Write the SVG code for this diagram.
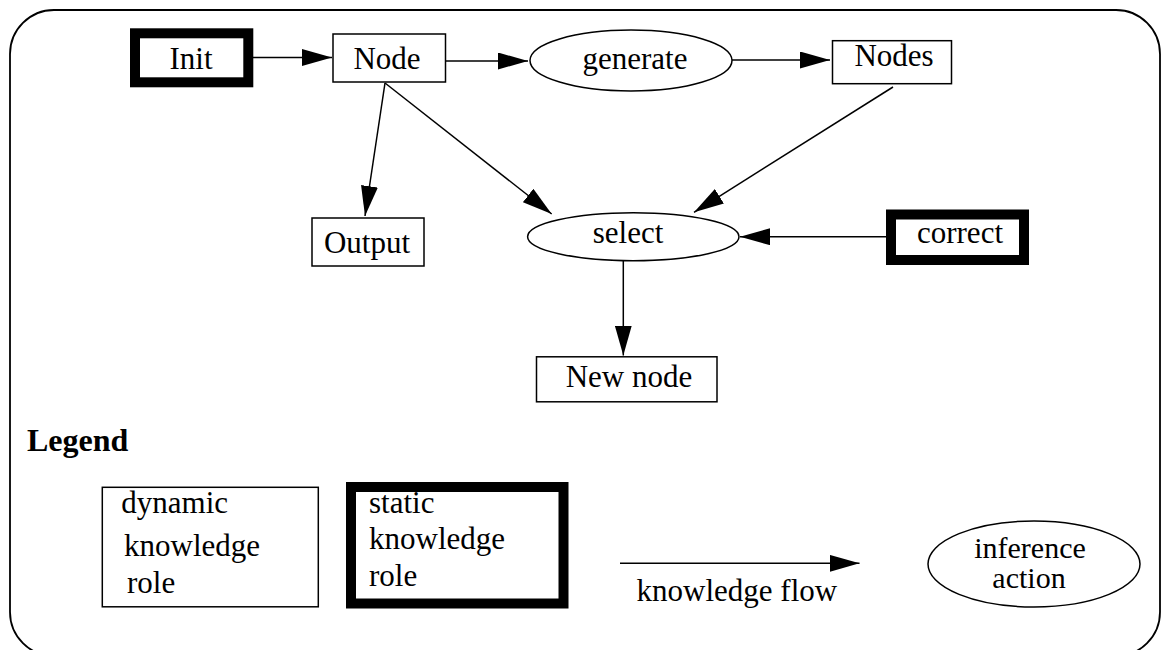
<svg xmlns="http://www.w3.org/2000/svg" width="1161" height="650" viewBox="0 0 1161 650">
<defs>
<marker id="ah" markerUnits="userSpaceOnUse" markerWidth="30" markerHeight="17" refX="30" refY="8.5" orient="auto">
<path d="M0,0 L30,8.5 L0,17 z" fill="#000"/>
</marker>
<style>
.c{text-anchor:middle}
.thin{fill:#fff;stroke:#000;stroke-width:1.5}
.thick{fill:#fff;stroke:#000;stroke-width:10}
.edge{fill:none;stroke:#000;stroke-width:1.5;marker-end:url(#ah)}
</style>
</defs>
<rect width="1161" height="650" fill="#fff"/>
<rect id="frame" x="10" y="10" width="1150" height="646" rx="44" ry="44" fill="none" stroke="#000" stroke-width="1.8"/>
<g id="connectors">
<line class="edge" x1="253" y1="57.5" x2="332" y2="57.5"/>
<line class="edge" x1="446" y1="61" x2="528" y2="61"/>
<line class="edge" x1="732" y1="60" x2="830" y2="60"/>
<line class="edge" x1="385" y1="83" x2="365" y2="216"/>
<line class="edge" x1="385" y1="83" x2="551.7" y2="214"/>
<line class="edge" x1="893" y1="87" x2="694" y2="212.3"/>
<line class="edge" x1="886" y1="236.7" x2="740" y2="236.7"/>
<line class="edge" x1="623.3" y1="258.3" x2="623.3" y2="355.5"/>
</g>
<g font-family="'Liberation Serif', 'Times New Roman', 'DejaVu Serif', serif" font-size="31" fill="#000">
<g id="init"><rect class="thick" x="135" y="33.3" width="113.3" height="49"/><text class="c" x="191" y="69">Init</text></g>
<g id="node"><rect class="thin" x="333" y="34" width="112.5" height="48"/><text class="c" x="387" y="69.3">Node</text></g>
<g id="generate"><ellipse class="thin" cx="631" cy="60.5" rx="101" ry="30.5"/><text class="c" x="635" y="69.3">generate</text></g>
<g id="nodes"><rect class="thin" x="832.5" y="40.7" width="119" height="43"/><text class="c" x="894" y="66">Nodes</text></g>
<g id="output"><rect class="thin" x="312" y="218" width="112" height="48"/><text class="c" x="367" y="253.3">Output</text></g>
<g id="select"><ellipse class="thin" cx="633.3" cy="236.7" rx="105.7" ry="24"/><text class="c" x="628" y="243.3">select</text></g>
<g id="correct"><rect class="thick" x="891" y="214.5" width="133" height="45.5"/><text class="c" x="960" y="243.3">correct</text></g>
<g id="newnode"><rect class="thin" x="536.5" y="356.8" width="180.5" height="45"/><text class="c" x="629" y="386.7">New node</text></g>
<g id="legend">
<text x="27" y="450.7" font-weight="bold" font-size="32">Legend</text>
<g id="legend-dynamic"><rect class="thin" x="102.3" y="487.3" width="216" height="119.5"/>
<text x="121.3" y="513">dynamic</text><text x="124" y="556">knowledge</text><text x="127" y="593">role</text></g>
<g id="legend-static"><rect class="thick" x="351" y="487" width="212.5" height="116.5"/>
<text x="369" y="512.5">static</text><text x="369" y="549.3">knowledge</text><text x="369" y="586">role</text></g>
<g id="legend-flow"><line class="edge" x1="620" y1="563.3" x2="859.5" y2="563.3"/><text x="636.6" y="600.7">knowledge flow</text></g>
<g id="legend-action"><ellipse class="thin" cx="1034" cy="564" rx="106" ry="43"/>
<text class="c" x="1030" y="557.5" font-size="30">inference</text><text class="c" x="1029" y="588" font-size="30">action</text></g>
</g>
</g>
</svg>
